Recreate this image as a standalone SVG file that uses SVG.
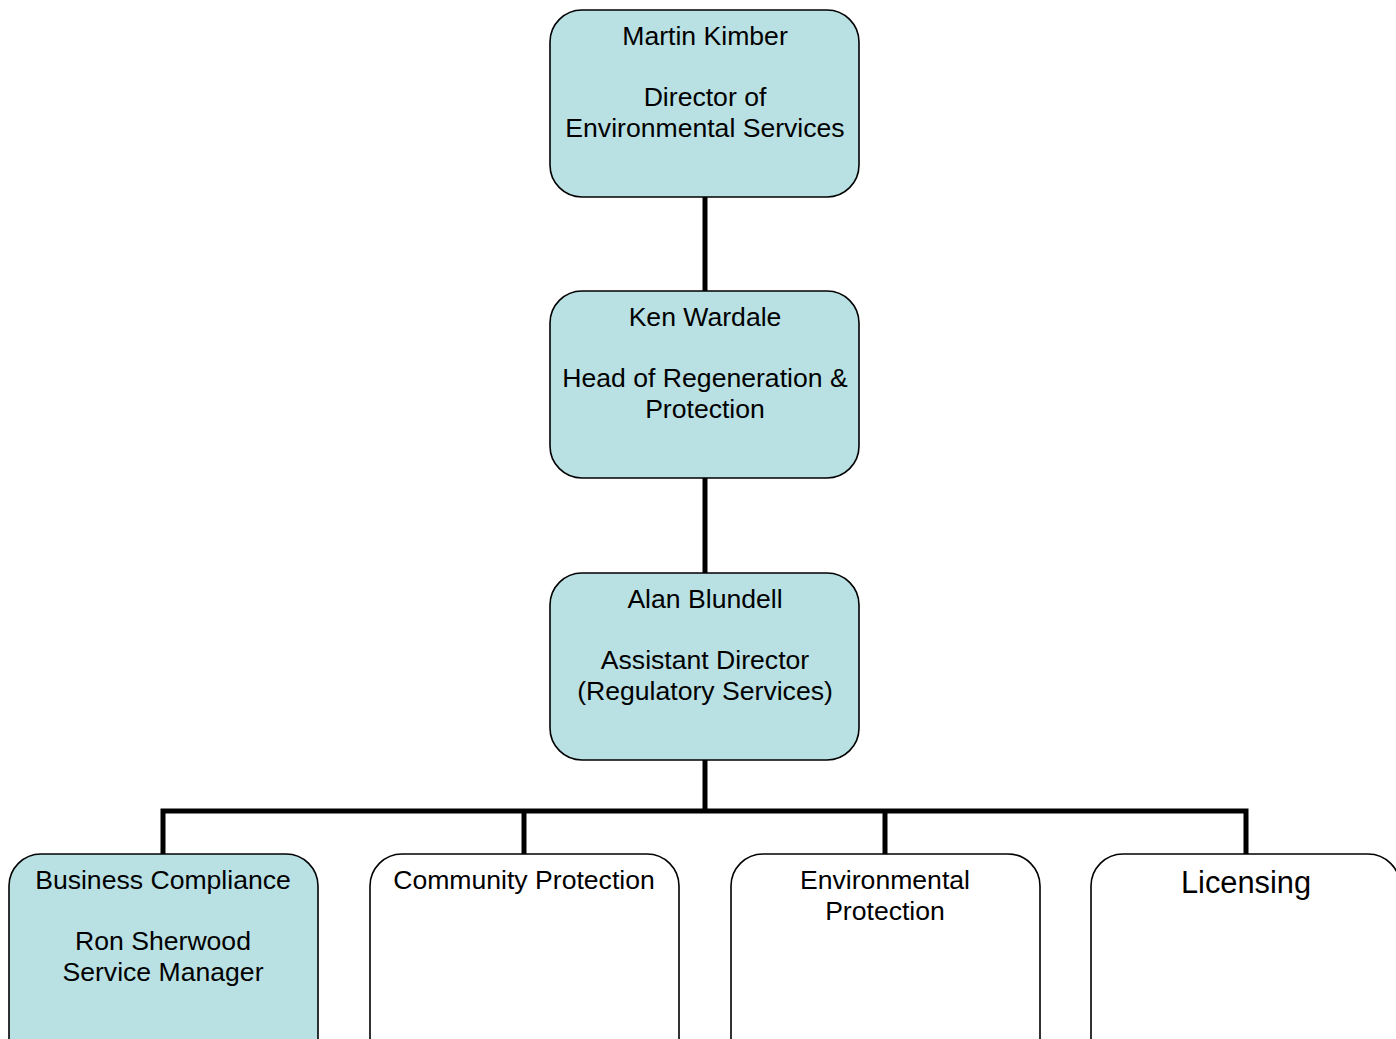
<svg xmlns="http://www.w3.org/2000/svg" width="1396" height="1039" viewBox="0 0 1396 1039">
<style>
.box{stroke:#000;stroke-width:1.6}
.blue{fill:#b9e0e3}
.white{fill:#fff}
text{font-family:"Liberation Sans",Arial,sans-serif;font-size:26.6px;fill:#000;text-anchor:middle}
.big{font-size:30.8px}
.conn{stroke:#000;stroke-width:5;fill:none}
</style>
<rect width="1396" height="1039" fill="#fff"/>
<g id="connectors">
<line class="conn" x1="705" y1="197" x2="705" y2="291"/>
<line class="conn" x1="705" y1="478" x2="705" y2="573"/>
<line class="conn" x1="705" y1="760" x2="705" y2="811"/>
<polyline class="conn" points="163,854 163,811 1246,811 1246,854"/>
<line class="conn" x1="524" y1="811" x2="524" y2="854"/>
<line class="conn" x1="885" y1="811" x2="885" y2="854"/>
</g>
<g id="n1">
<rect class="box blue" x="550" y="10" width="309" height="187" rx="32"/>
<text x="705" y="45">Martin Kimber</text>
<text x="705" y="106">Director of</text>
<text x="705" y="137">Environmental Services</text>
</g>
<g id="n2">
<rect class="box blue" x="550" y="291" width="309" height="187" rx="32"/>
<text x="705" y="326">Ken Wardale</text>
<text x="705" y="387">Head of Regeneration &amp;</text>
<text x="705" y="418">Protection</text>
</g>
<g id="n3">
<rect class="box blue" x="550" y="573" width="309" height="187" rx="32"/>
<text x="705" y="608">Alan Blundell</text>
<text x="705" y="669">Assistant Director</text>
<text x="705" y="700">(Regulatory Services)</text>
</g>
<g id="n4">
<rect class="box blue" x="9" y="854" width="309" height="220" rx="32"/>
<text x="163" y="889">Business Compliance</text>
<text x="163" y="950">Ron Sherwood</text>
<text x="163" y="981">Service Manager</text>
</g>
<g id="n5">
<rect class="box white" x="370" y="854" width="309" height="220" rx="32"/>
<text x="524" y="889">Community Protection</text>
</g>
<g id="n6">
<rect class="box white" x="731" y="854" width="309" height="220" rx="32"/>
<text x="885" y="889">Environmental</text>
<text x="885" y="920">Protection</text>
</g>
<g id="n7">
<rect class="box white" x="1091" y="854" width="309" height="220" rx="32"/>
<text class="big" x="1246" y="893">Licensing</text>
</g>
</svg>
